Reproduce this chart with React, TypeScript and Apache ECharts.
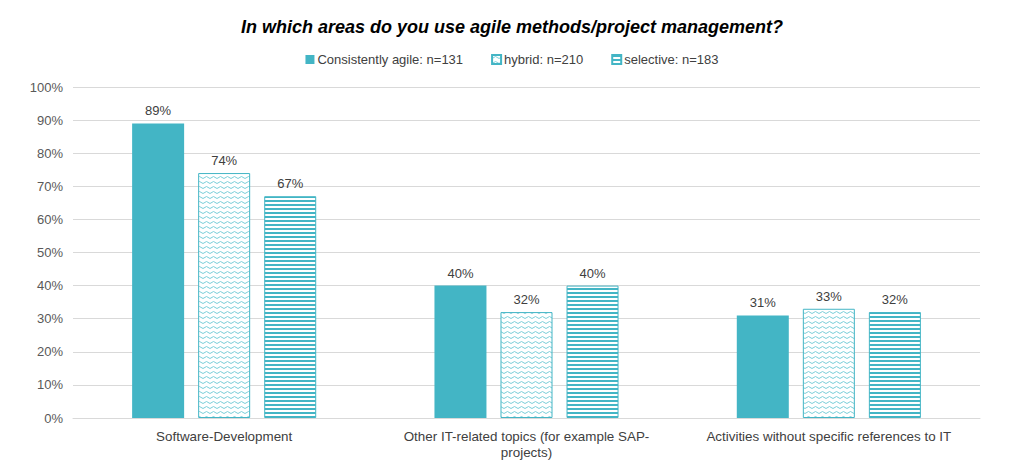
import React, { useEffect, useRef } from "react";
import * as echarts from "echarts";

const categories = [
  "Software-Development",
  "Other IT-related topics (for example SAP-projects)",
  "Activities without specific references to IT",
];
const seriesNames = ["Consistently agile: n=131", "hybrid: n=210", "selective: n=183"];
const agileValues = [89, 40, 31];
const hybridValues = [74, 32, 33];
const selectiveValues = [67, 40, 32];
const yTicks = [0, 10, 20, 30, 40, 50, 60, 70, 80, 90, 100];

const TEAL = "#43b5c5";

function makeWave(): HTMLCanvasElement {
  const c = document.createElement("canvas");
  c.width = 7;
  c.height = 5;
  const ctx = c.getContext("2d")!;
  ctx.fillStyle = "#ffffff";
  ctx.fillRect(0, 0, 7, 5);
  ctx.strokeStyle = "#7ccfd9";
  ctx.lineWidth = 1;
  ctx.beginPath();
  ctx.moveTo(0, 3.5);
  ctx.lineTo(3.5, 1.5);
  ctx.lineTo(7, 3.5);
  ctx.stroke();
  return c;
}

function makeStripes(): HTMLCanvasElement {
  const c = document.createElement("canvas");
  c.width = 4;
  c.height = 4;
  const ctx = c.getContext("2d")!;
  ctx.fillStyle = "#ffffff";
  ctx.fillRect(0, 0, 4, 4);
  ctx.fillStyle = TEAL;
  ctx.fillRect(0, 0, 4, 2);
  return c;
}

export default function App() {
  const ref = useRef<HTMLDivElement>(null);
  useEffect(() => {
    if (!ref.current) return;
    const chart = echarts.init(ref.current, undefined, { renderer: "svg" });
    const labelCfg = {
      show: true,
      position: "top" as const,
      formatter: "{c}%",
      color: "#404040",
      fontSize: 13,
      fontFamily: "Liberation Sans, Arial, sans-serif",
      distance: 6,
    };
    chart.setOption({
      animation: false,
      backgroundColor: "#ffffff",
      title: {
        text: "In which areas do you use agile methods/project management?",
        left: "center",
        top: 13,
        textStyle: {
          fontSize: 18,
          fontWeight: "bold",
          fontStyle: "italic",
          color: "#000000",
          fontFamily: "Liberation Sans, Arial, sans-serif",
        },
      },
      legend: {
        top: 48,
        left: "center",
        itemWidth: 9,
        itemHeight: 9,
        itemGap: 28,
        icon: "rect",
        textStyle: {
          fontSize: 13,
          color: "#404040",
          fontFamily: "Liberation Sans, Arial, sans-serif",
          padding: [0, 0, 0, -2],
        },
        data: seriesNames,
      },
      grid: { left: 73, right: 44, top: 87, bottom: 38, containLabel: false },
      xAxis: {
        type: "category",
        data: categories,
        axisLine: { lineStyle: { color: "#d9d9d9" } },
        axisTick: { show: false },
        axisLabel: {
          color: "#404040",
          fontSize: 13.4,
          fontFamily: "Liberation Sans, Arial, sans-serif",
          margin: 10,
          interval: 0,
          lineHeight: 16,
          formatter: (v: string) => v.replace("SAP-", "SAP-\n"),
        },
      },
      yAxis: {
        type: "value",
        min: yTicks[0],
        max: yTicks[yTicks.length - 1],
        interval: 10,
        axisLine: { show: false },
        axisTick: { show: false },
        splitLine: { lineStyle: { color: "#d9d9d9" } },
        axisLabel: {
          color: "#595959",
          fontSize: 13,
          fontFamily: "Liberation Sans, Arial, sans-serif",
          formatter: "{value}%",
          margin: 10,
        },
      },
      series: [
        {
          name: seriesNames[0],
          type: "bar",
          data: agileValues,
          barWidth: "17.2%",
          barGap: "27%",
          itemStyle: { color: TEAL },
          label: labelCfg,
        },
        {
          name: seriesNames[1],
          type: "bar",
          data: hybridValues,
          barWidth: "17.2%",
          barGap: "27%",
          itemStyle: {
            color: { image: makeWave(), repeat: "repeat" },
            borderColor: TEAL,
            borderWidth: 1,
          },
          label: labelCfg,
        },
        {
          name: seriesNames[2],
          type: "bar",
          data: selectiveValues,
          barWidth: "17.2%",
          barGap: "27%",
          itemStyle: {
            color: { image: makeStripes(), repeat: "repeat" },
            borderColor: TEAL,
            borderWidth: 1,
          },
          label: labelCfg,
        },
      ],
    });
    return () => chart.dispose();
  }, []);
  return (
    <div
      ref={ref}
      style={{ position: "fixed", left: 0, top: 0, width: 1024, height: 460, background: "#fff" }}
    />
  );
}
